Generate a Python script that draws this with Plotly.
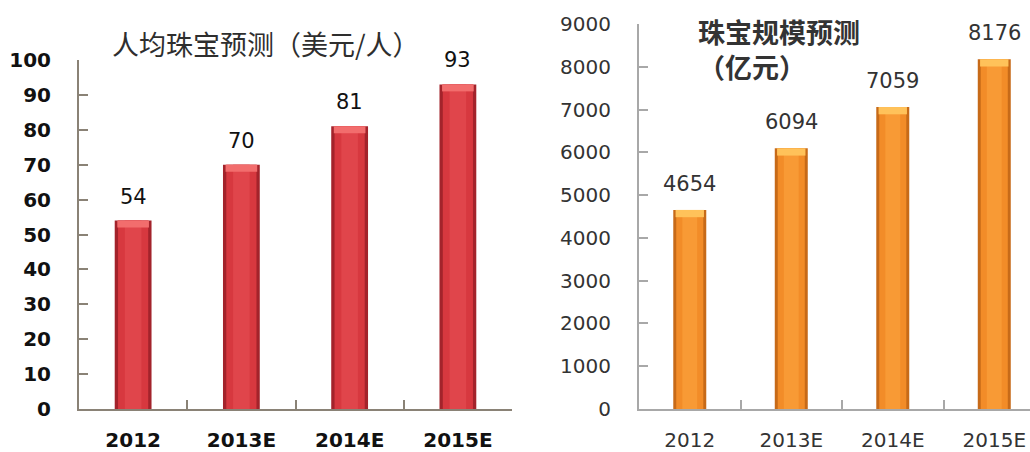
import plotly.graph_objects as go

# Data
years = ["2012", "2013E", "2014E", "2015E"]
per_capita_usd = [54, 70, 81, 93]          # 人均珠宝 (美元/人)
market_size_100m_cny = [4654, 6094, 7059, 8176]  # 珠宝规模 (亿元)

left_ticks = list(range(0, 101, 10))
right_ticks = list(range(0, 9001, 1000))

fig = go.Figure()


def add_cylinder_bars(vals, xa, ya, width, edge, body, shine, cap, cap_units):
    """Overlay several bar layers to give each column a rounded, tube-like look."""
    fig.add_trace(go.Bar(x=years, y=vals, width=width, marker=dict(color=edge, line=dict(width=0)),
                         xaxis=xa, yaxis=ya, hoverinfo="skip"))
    fig.add_trace(go.Bar(x=years, y=vals, width=width * 0.82, marker=dict(color=body, line=dict(width=0)),
                         xaxis=xa, yaxis=ya, hoverinfo="skip"))
    fig.add_trace(go.Bar(x=years, y=vals, width=width * 0.45, marker=dict(color=shine, line=dict(width=0)),
                         xaxis=xa, yaxis=ya, hoverinfo="skip"))
    fig.add_trace(go.Bar(x=years, y=[cap_units] * len(vals), base=[v - cap_units for v in vals],
                         width=width * 0.86, marker=dict(color=cap, line=dict(width=0)),
                         xaxis=xa, yaxis=ya, hoverinfo="skip"))


# Left panel: red columns
add_cylinder_bars(per_capita_usd, "x", "y", 0.34,
                  "#a3232b", "#d7383f", "#e0454b", "#f26d6d", 2.0)
# Right panel: orange columns
add_cylinder_bars(market_size_100m_cny, "x2", "y2", 0.325,
                  "#c76a18", "#f28c28", "#f89a35", "#ffc25a", 170)

# Value labels above each column (positioned by category index)
for i, v in enumerate(per_capita_usd):
    fig.add_annotation(x=i, y=v, xref="x", yref="y", text=str(v), showarrow=False,
                       yshift=24, font=dict(family="DejaVu Sans", size=21, color="#111111"))
for i, v in enumerate(market_size_100m_cny):
    fig.add_annotation(x=i, y=v, xref="x2", yref="y2", text=str(v), showarrow=False,
                       yshift=26, font=dict(family="DejaVu Sans", size=21, color="#333333"))

# Panel titles
fig.add_annotation(x=0.2585, y=0.9027, xref="paper", yref="paper", text="人均珠宝预测（美元/人）",
                   showarrow=False, xanchor="center", yanchor="middle",
                   font=dict(family="Noto Sans CJK SC", size=27, color="#2e2e2e"))
fig.add_annotation(x=0.6757, y=0.978, xref="paper", yref="paper", text="珠宝规模预测<br>（亿元）",
                   showarrow=False, xanchor="left", yanchor="top", align="left",
                   font=dict(family="Noto Sans CJK SC", size=27, color="#333333", weight="bold"))

left_axis_color = "#8a8276"
right_axis_color = "#a8a8a8"

fig.update_layout(
    width=1030, height=452,
    margin=dict(l=0, r=0, t=0, b=0, autoexpand=False),
    paper_bgcolor="white", plot_bgcolor="white",
    barmode="overlay", showlegend=False,
    xaxis=dict(domain=[0.0767, 0.4971], type="category", range=[-0.5, 3.5], automargin=False,
               showline=True, linecolor=left_axis_color, linewidth=2,
               ticks="inside", ticklen=9, tickcolor=left_axis_color, tickwidth=2,
               tickson="boundaries", showgrid=False, ticklabelstandoff=12,
               tickfont=dict(family="DejaVu Sans", size=20, color="#111111", weight="bold")),
    yaxis=dict(domain=[0.0951, 0.8673], range=[0, 100], tickvals=left_ticks, automargin=False,
               showline=True, linecolor=left_axis_color, linewidth=2,
               ticks="inside", ticklen=9, tickcolor=left_axis_color, tickwidth=2,
               showgrid=False, zeroline=False, ticklabelstandoff=22,
               tickfont=dict(family="DejaVu Sans", size=20, color="#111111", weight="bold")),
    xaxis2=dict(domain=[0.6204, 1.0], type="category", range=[-0.5, 3.352], anchor="y2",
                automargin=False,
                showline=True, linecolor=right_axis_color, linewidth=2,
                ticks="inside", ticklen=9, tickcolor=right_axis_color, tickwidth=2,
                tickson="boundaries", showgrid=False, ticklabelstandoff=12,
                tickfont=dict(family="DejaVu Sans", size=20, color="#333333")),
    yaxis2=dict(domain=[0.0951, 0.9469], range=[0, 9000], tickvals=right_ticks, anchor="x2",
                automargin=False,
                showline=True, linecolor=right_axis_color, linewidth=2,
                ticks="inside", ticklen=9, tickcolor=right_axis_color, tickwidth=2,
                showgrid=False, zeroline=False, ticklabelstandoff=22,
                tickfont=dict(family="DejaVu Sans", size=20, color="#333333")),
)

fig.write_html("out.html")
